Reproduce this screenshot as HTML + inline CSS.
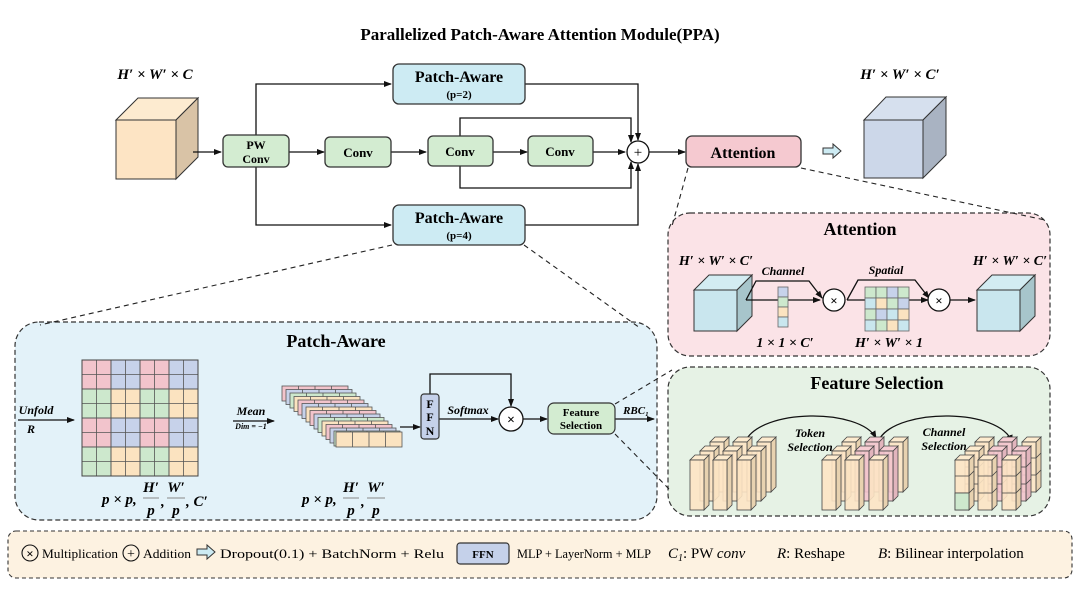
<!DOCTYPE html>
<html><head><meta charset="utf-8"><style>
body{margin:0;background:#fff}
svg{display:block}
text{font-family:"Liberation Serif",serif}
.b{font-weight:bold}
.m{font-family:"Liberation Serif",serif;font-style:italic;font-weight:bold}
</style></head><body>
<svg width="1080" height="589" viewBox="0 0 1080 589" xmlns="http://www.w3.org/2000/svg">
<defs>
<marker id="a" markerWidth="8" markerHeight="8" refX="7" refY="4" orient="auto" markerUnits="userSpaceOnUse"><path d="M0,1 L8,4 L0,7z" fill="#111"/></marker>
<g id="slice"><rect x="0" y="0" width="66" height="15" stroke="#555" stroke-width="0.8"/><path d="M16.5,0v15M33,0v15M49.5,0v15" stroke="#555" stroke-width="0.8"/></g>
<g id="pil"><path d="M14,0 L19,-5 L19,45 L14,50z" fill="#e8d2b0" stroke="#444" stroke-width="0.8"/><path d="M0,0 L5,-5 L19,-5 L14,0z" fill="#fdebcf" stroke="#444" stroke-width="0.8"/><rect width="14" height="50" fill="#fde4c4" fill-opacity="0.9" stroke="#444" stroke-width="0.8"/></g>
<g id="pilp"><path d="M14,0 L19,-5 L19,45 L14,50z" fill="#e2b5bd" stroke="#444" stroke-width="0.8"/><path d="M0,0 L5,-5 L19,-5 L14,0z" fill="#f6cdd3" stroke="#444" stroke-width="0.8"/><rect width="14" height="50" fill="#f3c4cc" fill-opacity="0.9" stroke="#444" stroke-width="0.8"/></g>
<g id="seg"><path d="M0,16h14l5,-5M0,33h14l5,-5" stroke="#444" stroke-width="0.8" fill="none"/></g>
</defs>

<text x="540" y="40" text-anchor="middle" class="b" font-size="17">Parallelized Patch-Aware Attention Module(PPA)</text>

<rect x="15" y="322" width="642" height="198" rx="24" fill="#e3f2f9" stroke="#333" stroke-dasharray="5,3" stroke-width="1.2"/>
<rect x="668" y="213" width="382" height="143" rx="22" fill="#fbe3e7" stroke="#333" stroke-dasharray="5,3" stroke-width="1.2"/>
<rect x="668" y="367" width="382" height="149" rx="22" fill="#e6f2e5" stroke="#333" stroke-dasharray="5,3" stroke-width="1.2"/>
<rect x="8" y="531" width="1064" height="47" rx="8" fill="#fdf2e1" stroke="#333" stroke-dasharray="4,3" stroke-width="1.1"/>

<g stroke="#222" stroke-dasharray="5,4" stroke-width="1.1" fill="none">
<path d="M392,245 L40,325"/><path d="M524,245 L640,328"/>
<path d="M688,168 L672,226"/><path d="M801,168 L1045,220"/>
<path d="M615,404 L672,370"/><path d="M615,434 L670,490"/>
</g>

<text x="155" y="79" text-anchor="middle" class="m" font-size="15">H′ × W′ × C</text>
<path d="M116,120 L138,98 L198,98 L176,120z" fill="#fdebd0" stroke="#333"/>
<path d="M176,120 L198,98 L198,157 L176,179z" fill="#d9c3a6" stroke="#333"/>
<rect x="116" y="120" width="60" height="59" fill="#fde4c4" stroke="#333"/>

<g stroke="#111" stroke-width="1.3" fill="none">
<path d="M193,152 H221" marker-end="url(#a)"/>
<path d="M256,135 V84 H391" marker-end="url(#a)"/>
<path d="M256,167 V225 H391" marker-end="url(#a)"/>
<path d="M289,152 H324" marker-end="url(#a)"/>
<path d="M391,152 H426" marker-end="url(#a)"/>
<path d="M493,152 H527" marker-end="url(#a)"/>
<path d="M593,152 H625" marker-end="url(#a)"/>
<path d="M460,136 V118 H631 V142" marker-end="url(#a)"/>
<path d="M460,166 V188 H631 V162" marker-end="url(#a)"/>
<path d="M525,84 H638 V140" marker-end="url(#a)"/>
<path d="M525,225 H638 V164" marker-end="url(#a)"/>
<path d="M649,152 H685" marker-end="url(#a)"/>
</g>
<circle cx="638" cy="152" r="11" fill="#fff" stroke="#111" stroke-width="1.3"/>
<text x="638" y="157" text-anchor="middle" font-size="15">+</text>

<g stroke="#333" stroke-width="1.3">
<rect x="223" y="135" width="66" height="32" rx="5" fill="#d3ecd1"/>
<rect x="325" y="137" width="66" height="30" rx="5" fill="#d3ecd1"/>
<rect x="428" y="136" width="65" height="30" rx="5" fill="#d3ecd1"/>
<rect x="528" y="136" width="65" height="30" rx="5" fill="#d3ecd1"/>
<rect x="393" y="64" width="132" height="40" rx="6" fill="#cdebf3"/>
<rect x="393" y="205" width="132" height="40" rx="6" fill="#cdebf3"/>
<rect x="686" y="136" width="115" height="31" rx="6" fill="#f5c9d0"/>
</g>
<g text-anchor="middle">
<text x="256" y="149" class="b" font-size="12">PW</text><text x="256" y="163" class="b" font-size="12">Conv</text>
<text x="358" y="157" class="b" font-size="13">Conv</text><text x="460" y="156" class="b" font-size="13">Conv</text><text x="560" y="156" class="b" font-size="13">Conv</text>
<text x="459" y="82" class="b" font-size="16">Patch-Aware</text><text x="459" y="98" class="b" font-size="11">(p=2)</text>
<text x="459" y="223" class="b" font-size="16">Patch-Aware</text><text x="459" y="239" class="b" font-size="11">(p=4)</text>
<text x="743" y="158" class="b" font-size="16">Attention</text>
</g>
<path d="M823,148 H833 V144 L841,151 L833,158 V154 H823z" fill="#cdebf3" stroke="#333" stroke-width="1"/>

<text x="900" y="79" text-anchor="middle" class="m" font-size="15">H′ × W′ × C′</text>
<path d="M864,120 L886,97 L946,97 L923,120z" fill="#d6e0ee" stroke="#333"/>
<path d="M923,120 L946,97 L946,155 L923,178z" fill="#a9b3c2" stroke="#333"/>
<rect x="864" y="120" width="59" height="58" fill="#ccd7e9" stroke="#333"/>

<text x="336" y="347" text-anchor="middle" class="b" font-size="18">Patch-Aware</text>
<g stroke="#555" stroke-width="0.8">
<g fill="#f2c4cc"><rect x="82" y="360" width="29" height="29"/><rect x="140" y="360" width="29" height="29"/><rect x="82" y="418" width="29" height="29"/><rect x="140" y="418" width="29" height="29"/></g>
<g fill="#c7d2ea"><rect x="111" y="360" width="29" height="29"/><rect x="169" y="360" width="29" height="29"/><rect x="111" y="418" width="29" height="29"/><rect x="169" y="418" width="29" height="29"/></g>
<g fill="#cde8cd"><rect x="82" y="389" width="29" height="29"/><rect x="140" y="389" width="29" height="29"/><rect x="82" y="447" width="29" height="29"/><rect x="140" y="447" width="29" height="29"/></g>
<g fill="#fbe3c0"><rect x="111" y="389" width="29" height="29"/><rect x="169" y="389" width="29" height="29"/><rect x="111" y="447" width="29" height="29"/><rect x="169" y="447" width="29" height="29"/></g>
<path d="M96.5,360v116M125.5,360v116M154.5,360v116M183.5,360v116M82,374.5h116M82,403.5h116M82,432.5h116M82,461.5h116M82,389h116M82,418h116M82,447h116M111,360v116M140,360v116M169,360v116" fill="none"/>
</g>
<rect x="82" y="360" width="116" height="116" fill="none" stroke="#444"/>
<!-- fraction labels -->
<g class="m" font-size="15">
<text x="102" y="504" class="m">p × p,</text>
<text x="151" y="492" text-anchor="middle" class="m">H′</text><path d="M143,498h16" stroke="#888"/><text x="151" y="515" text-anchor="middle" class="m">p</text>
<text x="161" y="506" class="m">,</text>
<text x="176" y="492" text-anchor="middle" class="m">W′</text><path d="M167,498h18" stroke="#888"/><text x="176" y="515" text-anchor="middle" class="m">p</text>
<text x="186" y="506" class="m">, C′</text>
<text x="302" y="504" class="m">p × p,</text>
<text x="351" y="492" text-anchor="middle" class="m">H′</text><path d="M343,498h16" stroke="#888"/><text x="351" y="515" text-anchor="middle" class="m">p</text>
<text x="361" y="506" class="m">,</text>
<text x="376" y="492" text-anchor="middle" class="m">W′</text><path d="M367,498h18" stroke="#888"/><text x="376" y="515" text-anchor="middle" class="m">p</text>
</g>

<g stroke="#111" stroke-width="1.3" fill="none">
<path d="M18,420 H74" marker-end="url(#a)"/>
<path d="M233,421 H274" marker-end="url(#a)"/>
<path d="M400,427 H420" marker-end="url(#a)"/>
<path d="M439,419 H498" marker-end="url(#a)"/>
<path d="M430,394 V374 H511 V406" marker-end="url(#a)"/>
<path d="M523,419 H547" marker-end="url(#a)"/>
<path d="M615,419 H654" marker-end="url(#a)"/>
</g>
<text x="36" y="414" text-anchor="middle" class="m" font-size="12">Unfold</text>
<text x="31" y="433" text-anchor="middle" class="m" font-size="12">R</text>
<text x="251" y="415" text-anchor="middle" class="m" font-size="12">Mean</text>
<text x="251" y="429" text-anchor="middle" class="m" font-size="8">Dim = −1</text>
<text x="468" y="414" text-anchor="middle" class="m" font-size="12">Softmax</text>
<text x="636" y="414" text-anchor="middle" class="m" font-size="11">RBC₁</text>

<use href="#slice" x="282" y="386" fill="#f2c4cc"/>
<use href="#slice" x="286" y="389.5" fill="#c7d2ea"/>
<use href="#slice" x="290" y="393" fill="#cde8cd"/>
<use href="#slice" x="294" y="396.5" fill="#fbe3c0"/>
<use href="#slice" x="298" y="400" fill="#f2c4cc"/>
<use href="#slice" x="302" y="403.5" fill="#c7d2ea"/>
<use href="#slice" x="306" y="407" fill="#fbe3c0"/>
<use href="#slice" x="310" y="410.5" fill="#f2c4cc"/>
<use href="#slice" x="314" y="414" fill="#c7d2ea"/>
<use href="#slice" x="318" y="417.5" fill="#cde8cd"/>
<use href="#slice" x="322" y="421" fill="#fbe3c0"/>
<use href="#slice" x="326" y="424.5" fill="#f2c4cc"/>
<use href="#slice" x="330" y="428" fill="#c7d2ea"/>
<use href="#slice" x="334" y="431" fill="#cde8cd"/>
<use href="#slice" x="336" y="432" fill="#fbe3c0"/>

<rect x="421" y="394" width="18" height="45" rx="3" fill="#c5d1ea" stroke="#333" stroke-width="1.2"/>
<text x="430" y="408" text-anchor="middle" class="b" font-size="12">F</text>
<text x="430" y="421" text-anchor="middle" class="b" font-size="12">F</text>
<text x="430" y="435" text-anchor="middle" class="b" font-size="12">N</text>
<circle cx="511" cy="419" r="12" fill="#fff" stroke="#111" stroke-width="1.3"/>
<text x="511" y="424" text-anchor="middle" class="b" font-size="14">×</text>
<rect x="548" y="403" width="67" height="31" rx="6" fill="#d3ecd1" stroke="#333" stroke-width="1.2"/>
<text x="581" y="416" text-anchor="middle" class="b" font-size="11">Feature</text>
<text x="581" y="429" text-anchor="middle" class="b" font-size="11">Selection</text>

<text x="860" y="235" text-anchor="middle" class="b" font-size="18">Attention</text>
<text x="716" y="265" text-anchor="middle" class="m" font-size="14">H′ × W′ × C′</text>
<text x="1010" y="265" text-anchor="middle" class="m" font-size="14">H′ × W′ × C′</text>
<path d="M694,290 L709,275 L752,275 L737,290z" fill="#d3ecf2" stroke="#333"/>
<path d="M737,290 L752,275 L752,316 L737,331z" fill="#a7c5cb" stroke="#333"/>
<rect x="694" y="290" width="43" height="41" fill="#c9e6ee" stroke="#333"/>
<path d="M977,290 L992,275 L1035,275 L1020,290z" fill="#d3ecf2" stroke="#333"/>
<path d="M1020,290 L1035,275 L1035,316 L1020,331z" fill="#a7c5cb" stroke="#333"/>
<rect x="977" y="290" width="43" height="41" fill="#c9e6ee" stroke="#333"/>
<g stroke="#111" stroke-width="1.3" fill="none">
<path d="M746,300 L756,281 H809 L822,298" marker-end="url(#a)"/>
<path d="M746,300 H820" marker-end="url(#a)"/>
<path d="M847,300 L858,280 H915 L929,298" marker-end="url(#a)"/>
<path d="M847,300 H928" marker-end="url(#a)"/>
<path d="M950,300 H975" marker-end="url(#a)"/>
</g>
<g stroke="#666" stroke-width="0.8">
<rect x="778" y="287" width="10" height="10" fill="#c7d2ea"/><rect x="778" y="297" width="10" height="10" fill="#cde8cd"/><rect x="778" y="307" width="10" height="10" fill="#fbe3c0"/><rect x="778" y="317" width="10" height="10" fill="#c9e6ee"/>
<rect x="865" y="287" width="11" height="11" fill="#cde8cd"/><rect x="876" y="287" width="11" height="11" fill="#cde8cd"/><rect x="887" y="287" width="11" height="11" fill="#c7d2ea"/><rect x="898" y="287" width="11" height="11" fill="#cde8cd"/>
<rect x="865" y="298" width="11" height="11" fill="#c9e6ee"/><rect x="876" y="298" width="11" height="11" fill="#fbe3c0"/><rect x="887" y="298" width="11" height="11" fill="#cde8cd"/><rect x="898" y="298" width="11" height="11" fill="#c7d2ea"/>
<rect x="865" y="309" width="11" height="11" fill="#cde8cd"/><rect x="876" y="309" width="11" height="11" fill="#c7d2ea"/><rect x="887" y="309" width="11" height="11" fill="#c9e6ee"/><rect x="898" y="309" width="11" height="11" fill="#fbe3c0"/>
<rect x="865" y="320" width="11" height="11" fill="#c9e6ee"/><rect x="876" y="320" width="11" height="11" fill="#cde8cd"/><rect x="887" y="320" width="11" height="11" fill="#fbe3c0"/><rect x="898" y="320" width="11" height="11" fill="#c9e6ee"/>
</g>
<circle cx="834" cy="300" r="11" fill="#fff" stroke="#111" stroke-width="1.3"/>
<text x="834" y="305" text-anchor="middle" class="b" font-size="13">×</text>
<circle cx="939" cy="300" r="11" fill="#fff" stroke="#111" stroke-width="1.3"/>
<text x="939" y="305" text-anchor="middle" class="b" font-size="13">×</text>
<text x="783" y="275" text-anchor="middle" class="m" font-size="12">Channel</text>
<text x="886" y="274" text-anchor="middle" class="m" font-size="12">Spatial</text>
<text x="785" y="347" text-anchor="middle" class="m" font-size="14">1 × 1 × C′</text>
<text x="889" y="347" text-anchor="middle" class="m" font-size="14">H′ × W′ × 1</text>

<text x="877" y="389" text-anchor="middle" class="b" font-size="18">Feature Selection</text>
<g stroke="#111" stroke-width="1.3" fill="none">
<path d="M745,442 C760,408 860,408 876,438" marker-end="url(#a)"/>
<path d="M880,438 C900,408 1000,408 1012,442" marker-end="url(#a)"/>
</g>
<text x="810" y="437" text-anchor="middle" class="m" font-size="12">Token</text>
<text x="810" y="451" text-anchor="middle" class="m" font-size="12">Selection</text>
<text x="944" y="436" text-anchor="middle" class="m" font-size="12">Channel</text>
<text x="944" y="450" text-anchor="middle" class="m" font-size="12">Selection</text>

<use href="#pil" x="710" y="442"/><use href="#pil" x="733" y="442"/><use href="#pil" x="757" y="442"/>
<use href="#pil" x="700" y="451"/><use href="#pil" x="723" y="451"/><use href="#pil" x="747" y="451"/>
<use href="#pil" x="690" y="460"/><use href="#pil" x="713" y="460"/><use href="#pil" x="737" y="460"/>
<use href="#pil" x="842" y="442"/><use href="#pilp" x="865" y="442"/><use href="#pil" x="889" y="442"/>
<use href="#pil" x="832" y="451"/><use href="#pilp" x="855" y="451"/><use href="#pilp" x="879" y="451"/>
<use href="#pil" x="822" y="460"/><use href="#pil" x="845" y="460"/><use href="#pil" x="869" y="460"/>
<use href="#pil" x="975" y="442"/><use href="#pilp" x="998" y="442"/><use href="#pil" x="1022" y="442"/>
<use href="#seg" x="975" y="442"/><use href="#seg" x="998" y="442"/><use href="#seg" x="1022" y="442"/>
<use href="#pil" x="965" y="451"/><use href="#pilp" x="988" y="451"/><use href="#pilp" x="1012" y="451"/>
<use href="#seg" x="965" y="451"/><use href="#seg" x="988" y="451"/><use href="#seg" x="1012" y="451"/>
<use href="#pil" x="955" y="460"/><use href="#pil" x="978" y="460"/><use href="#pil" x="1002" y="460"/>
<use href="#seg" x="955" y="460"/><use href="#seg" x="978" y="460"/><use href="#seg" x="1002" y="460"/>
<rect x="955" y="493" width="14" height="17" fill="#cde8cd" stroke="#444" stroke-width="0.8"/>

<g font-family="'Liberation Sans',sans-serif" font-size="13">
<circle cx="30" cy="553" r="8" fill="none" stroke="#111" stroke-width="1.1"/>
<text x="30" y="558" text-anchor="middle" font-family="'Liberation Sans',sans-serif" font-size="13" font-weight="bold">×</text>
<text x="42" y="558" font-family="'Liberation Sans',sans-serif" textLength="76" lengthAdjust="spacingAndGlyphs">Multiplication</text>
<circle cx="131" cy="553" r="8" fill="none" stroke="#111" stroke-width="1.1"/>
<text x="131" y="558" text-anchor="middle" font-family="'Liberation Sans',sans-serif" font-size="14">+</text>
<text x="143" y="558" font-family="'Liberation Sans',sans-serif" textLength="48" lengthAdjust="spacingAndGlyphs">Addition</text>
<path d="M197,549 H207 V545 L215,552 L207,559 V555 H197z" fill="#cdebf3" stroke="#333" stroke-width="1"/>
<text x="220" y="558" font-family="'Liberation Sans',sans-serif" textLength="224" lengthAdjust="spacingAndGlyphs">Dropout(0.1) + BatchNorm + Relu</text>
<rect x="457" y="543" width="52" height="21" rx="3" fill="#c5d1ea" stroke="#333" stroke-width="1.2"/>
<text x="483" y="558" text-anchor="middle" font-family="'Liberation Serif',serif" font-size="11" font-weight="bold">FFN</text>
<text x="517" y="558" font-family="'Liberation Sans',sans-serif" textLength="134" lengthAdjust="spacingAndGlyphs">MLP + LayerNorm + MLP</text>
<text x="668" y="558" font-family="'Liberation Serif',serif" font-style="italic" font-size="15">C<tspan font-size="10" dy="3">1</tspan><tspan dy="-3" font-style="normal">: PW </tspan>conv</text>
<text x="777" y="558" font-family="'Liberation Serif',serif" font-size="15"><tspan font-style="italic">R</tspan>: Reshape</text>
<text x="878" y="558" font-family="'Liberation Serif',serif" font-size="15"><tspan font-style="italic">B</tspan>: Bilinear interpolation</text>
</g>
</svg>
</body></html>
